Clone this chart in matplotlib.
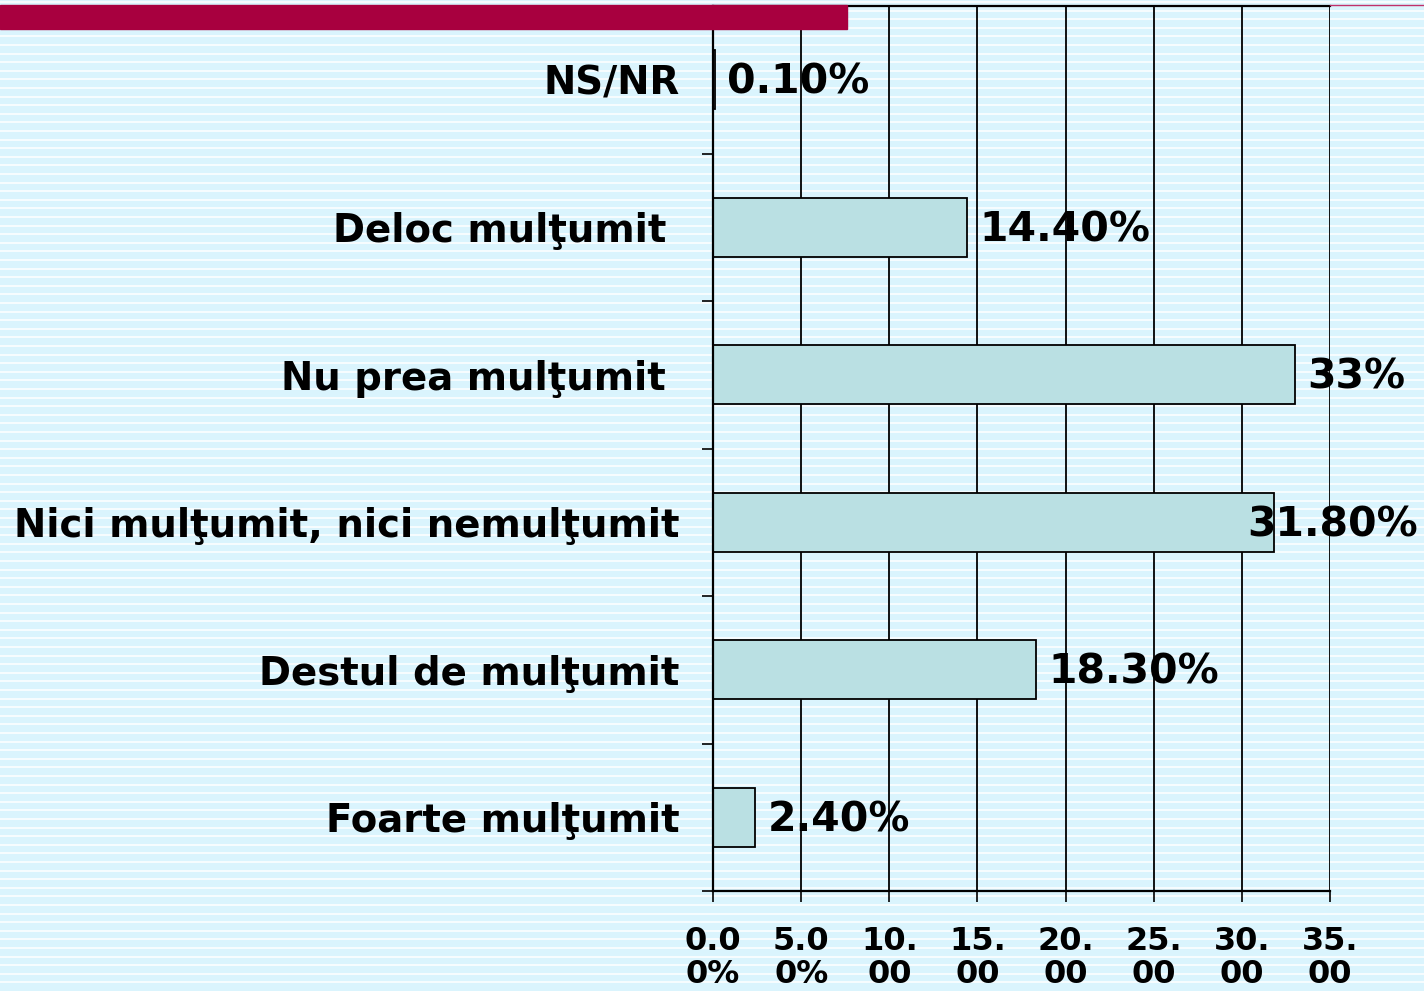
import matplotlib
matplotlib.use("Agg")
import matplotlib.pyplot as plt
from matplotlib.lines import Line2D
from matplotlib.patches import Rectangle
import numpy as np

categories = ["Foarte mulţumit", "Destul de mulţumit", "Nici mulţumit, nici nemulţumit",
              "Nu prea mulţumit ", "Deloc mulţumit ", "NS/NR"]
values = [2.4, 18.3, 31.8, 33.0, 14.4, 0.1]
value_labels = ["2.40%", "18.30%", "31.80%", "33%", "14.40%", "0.10%"]
xticks = [0, 5, 10, 15, 20, 25, 30, 35]
xtick_labels = ["0.0\n0%", "5.0\n0%", "10.\n00", "15.\n00", "20.\n00", "25.\n00", "30.\n00", "35.\n00"]

W, H = 1424, 991
fig = plt.figure(figsize=(W / 100, H / 100), dpi=100)
fig.patch.set_facecolor("#daf4fd")

# striped background
for yp in np.arange(2, H, 8.6):
    fig.add_artist(Line2D([0, 1], [1 - yp / H, 1 - yp / H], color="white", lw=1.1, zorder=0))

# red band on top
fig.add_artist(Rectangle((0, 1 - 29 / H), 847 / W, 24 / H, color="#a8003f", zorder=0.5))
fig.add_artist(Line2D([1330 / W, 1], [1 - 5 / H, 1 - 5 / H], color="#c0306a", lw=1, zorder=0.5))

ax = fig.add_axes([713 / W, 1 - 891 / H, (1330 - 713) / W, (891 - 6) / H])
ax.patch.set_alpha(0)

y = np.arange(len(categories))
ax.barh(y, values, height=0.4, color="#bae0e3", edgecolor="black", linewidth=1.3, zorder=2)

ax.set_xlim(0, 35)
ax.set_ylim(-0.5, len(categories) - 0.5)
ax.set_xticks(xticks)
ax.set_xticklabels(xtick_labels, fontsize=23, fontweight="bold", linespacing=1.1)
ax.set_yticks(y)
ax.set_yticklabels(categories, fontsize=27.8, fontweight="bold")
ax.set_yticks(np.arange(-0.5, len(categories), 1), minor=True)
ax.tick_params(axis="y", which="major", length=0, pad=24)
ax.tick_params(axis="y", which="minor", length=8, width=1.2, direction="out")
ax.tick_params(axis="x", length=8, width=1.2, direction="out", pad=17)
ax.grid(axis="x", color="black", lw=1.3, zorder=1)
ax.set_axisbelow(True)
for s in ["top", "left", "bottom"]:
    ax.spines[s].set_linewidth(1.6)
ax.spines["right"].set_visible(False)

texts = []
for yi, v, lab in zip(y, values, value_labels):
    t = ax.annotate(lab, (v, yi), xytext=(9, -2), textcoords="offset points",
                    ha="left", va="center", fontsize=29.5, fontweight="bold", zorder=3)
    texts.append(t)

fig.canvas.draw()
r = fig.canvas.get_renderer()
for t in texts:
    bb = t.get_window_extent(r)
    if bb.x1 > W - 6:
        dx = (bb.x1 - (W - 6)) * 72 / 100
        t.set_position((9 - dx, -2))

fig.savefig("out.png", dpi=100, facecolor=fig.get_facecolor())
